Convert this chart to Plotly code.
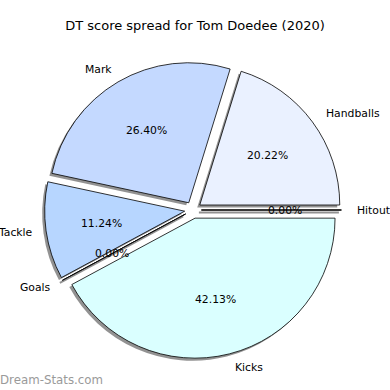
import plotly.graph_objects as go
import math

labels = ["Handballs", "Mark", "Tackle", "Goals", "Kicks", "Hitout"]
values = [36, 47, 20, 0, 75, 0]
colors = ["#EAF1FF", "#C4D9FF", "#B7D6FF", "#B0E0FF", "#DAFFFF", "#E0E8FF"]
title = "DT score spread for Tom Doedee (2020)"
watermark = "Dream-Stats.com"

W = H = 390
pull = 0.06
cx, cy = 193, 210  # pie centre in px (from top)
R = 140.0
half = R * (1 + pull)
dom_x = [(cx - half) / W, (cx + half) / W]
dom_y = [(H - cy - half) / H, (H - cy + half) / H]
sh = 2.5 / W

# matplotlib draws counterclockwise from 3 o'clock; reproduce with reversed clockwise order
L = labels[::-1]
V = values[::-1]
C = colors[::-1]

font = "DejaVu Sans"
fs = 10.8
common = dict(labels=L, values=V, sort=False, direction="clockwise", rotation=90,
              pull=[pull] * len(V), showlegend=False, textinfo="none")
fig = go.Figure()
# shadow
fig.add_trace(go.Pie(
    **common,
    marker=dict(colors=["rgba(110,110,110,0.75)"] * len(V), line=dict(width=0)),
    hoverinfo="skip",
    domain=dict(x=[dom_x[0] - sh, dom_x[1] - sh], y=[dom_y[0] - sh, dom_y[1] - sh]),
))
# slices
fig.add_trace(go.Pie(
    **common,
    marker=dict(colors=C, line=dict(color="black", width=0.8)),
    hoverinfo="label+percent", domain=dict(x=dom_x, y=dom_y),
))

# labels (1.1 R) and percentages (0.6 R), matplotlib-style, from the data angles
total = sum(values)
cum = 0
for lab, v in zip(labels, values):
    a0 = 360 * cum / total
    a1 = 360 * (cum + v) / total
    am = math.radians((a0 + a1) / 2)
    ox = cx + pull * R * math.cos(am)
    oy = cy - pull * R * math.sin(am)
    lx = ox + 1.1 * R * math.cos(am)
    ly = oy - 1.1 * R * math.sin(am)
    right = math.cos(am) > 1e-9
    fig.add_annotation(x=lx / W, y=1 - ly / H, xref="paper", yref="paper",
                       text=lab, showarrow=False,
                       xanchor="left" if right else "right",
                       xshift=0 if right else 3,
                       yanchor="middle",
                       font=dict(family=font, size=fs, color="black"))
    px_ = ox + 0.6 * R * math.cos(am)
    py_ = oy - 0.6 * R * math.sin(am)
    fig.add_annotation(x=px_ / W, y=1 - py_ / H, xref="paper", yref="paper",
                       text="%.2f%%" % (100.0 * v / total), showarrow=False,
                       xanchor="center", yanchor="middle",
                       font=dict(family=font, size=fs, color="black"))
    if v == 0:
        ex = ox + R * math.cos(am)
        ey = oy - R * math.sin(am)
        for dx, dy, col, wd in [(-2.5, 2.5, "rgba(110,110,110,0.75)", 2),
                                (0, 0, "black", 0.8)]:
            fig.add_shape(type="line", xref="paper", yref="paper",
                          x0=(ox + dx) / W, y0=1 - (oy + dy) / H,
                          x1=(ex + dx) / W, y1=1 - (ey + dy) / H,
                          line=dict(color=col, width=wd))
    cum += v

fig.add_annotation(x=0, y=0, xref="paper", yref="paper", xanchor="left", yanchor="bottom",
                   xshift=-2, yshift=1,
                   text=watermark, showarrow=False,
                   font=dict(family=font, size=11.8, color="#9A9A9A"))

fig.update_layout(
    width=W, height=H, margin=dict(l=0, r=0, t=0, b=0),
    paper_bgcolor="white", plot_bgcolor="white",
    title=dict(text=title, x=0.5, xanchor="center", y=1 - 25 / H, yanchor="middle",
               font=dict(family=font, size=13, color="black")),
    showlegend=False,
)
fig.write_html("out.html", config={"displayModeBar": False},
               post_script="document.body.style.margin='0';")
